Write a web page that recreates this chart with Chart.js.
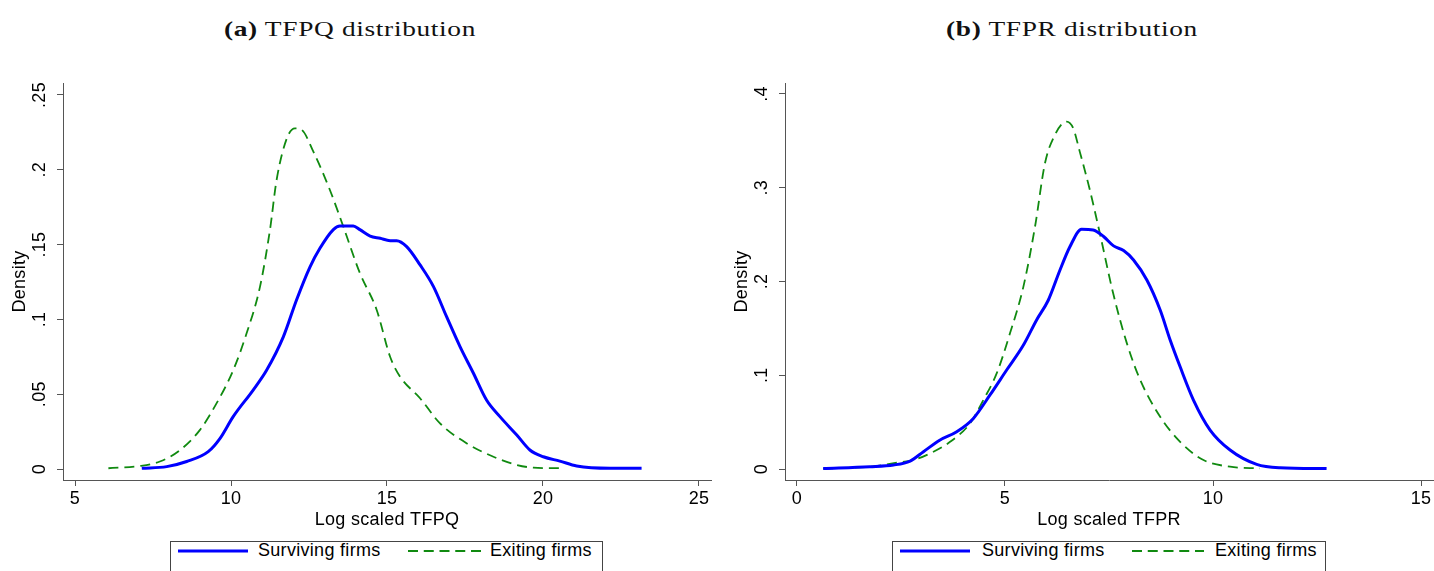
<!DOCTYPE html>
<html>
<head>
<meta charset="utf-8">
<script src="https://cdn.jsdelivr.net/npm/chart.js@4.4.1/dist/chart.umd.min.js"></script>
<style>
  html, body { margin: 0; padding: 0; background: #fff; overflow: hidden; }
  body { width: 1434px; height: 571px; position: relative; font-family: "Liberation Sans", Arial, sans-serif; }
  canvas { position: absolute; top: 60px; }
  #chartA { left: 0; }
  #chartB { left: 722px; }
  .title { position: absolute; top: 18px; font-family: "Liberation Serif", "Times New Roman", serif;
           font-size: 21px; line-height: 22px; white-space: nowrap; color: #111; letter-spacing: 0.5px;
           transform-origin: center; }
  .legend { position: absolute; top: 541px; height: 40px; border: 1px solid #444; box-sizing: border-box; }
  .lg-text { position: absolute; top: 541px; font-size: 18px; line-height: 18px; letter-spacing: 0.3px; color: #000; white-space: nowrap; }
  .lg-line { position: absolute; top: 548px; }
</style>
</head>
<body>
<div class="title" id="titleA" data-center="350"><b>(a)</b> TFPQ distribution</div>
<div class="title" id="titleB" data-center="1072"><b>(b)</b> TFPR distribution</div>
<canvas id="chartA" width="720" height="480"></canvas>
<canvas id="chartB" width="720" height="480"></canvas>
<script>
// ---- data ----
const seriesNames = ["Surviving firms", "Exiting firms"];

// (a) TFPQ
const tfpqSurvX = [7.14, 7.94, 8.58, 9.27, 9.65, 10.07, 10.71, 11.14, 11.68, 12.1, 12.53, 12.85, 13.28, 13.49, 13.92, 14.13, 14.46, 14.78, 15.1, 15.31, 15.63, 16.06, 16.49, 16.91, 17.34, 17.77, 18.19, 18.62, 19.16, 19.58, 20.01, 20.54, 21.08, 22.15, 23.16];
const tfpqSurvY = [0.0005, 0.0016, 0.005, 0.0116, 0.0205, 0.035, 0.0528, 0.066, 0.0885, 0.113, 0.135, 0.1475, 0.160, 0.1624, 0.1624, 0.160, 0.1557, 0.1542, 0.1526, 0.1526, 0.1486, 0.1364, 0.1219, 0.1018, 0.0818, 0.064, 0.0461, 0.035, 0.0227, 0.0127, 0.0082, 0.0053, 0.002, 0.0005, 0.0005];
const tfpqExitX = [6.07, 7.08, 7.72, 8.37, 9.0, 9.54, 10.07, 10.5, 10.93, 11.25, 11.46, 11.79, 12.05, 12.27, 12.64, 13.17, 13.6, 14.13, 14.67, 15.1, 15.42, 16.06, 16.7, 17.55, 18.41, 19.16, 19.69, 20.65];
const tfpqExitY = [0.0005, 0.002, 0.005, 0.0127, 0.026, 0.044, 0.066, 0.0907, 0.1219, 0.160, 0.193, 0.221, 0.2277, 0.2266, 0.2121, 0.1865, 0.162, 0.131, 0.1063, 0.075, 0.0617, 0.0473, 0.0305, 0.0172, 0.0082, 0.0027, 0.0009, 0.0005];

// (b) TFPR
const tfprSurvX = [0.63, 1.75, 2.32, 2.72, 3.04, 3.44, 3.84, 4.24, 4.64, 5.04, 5.44, 5.76, 6.04, 6.32, 6.56, 6.84, 7.12, 7.37, 7.61, 7.85, 8.09, 8.41, 8.73, 8.97, 9.21, 9.53, 9.93, 10.41, 11.05, 11.61, 12.73];
const tfprSurvY = [0.0005, 0.0025, 0.0043, 0.0085, 0.0185, 0.031, 0.0398, 0.054, 0.079, 0.1056, 0.132, 0.159, 0.180, 0.212, 0.237, 0.2557, 0.255, 0.248, 0.238, 0.233, 0.223, 0.2016, 0.1696, 0.1376, 0.109, 0.0736, 0.0416, 0.0203, 0.005, 0.0014, 0.0005];
const tfprExitX = [0.63, 1.75, 2.4, 2.8, 3.2, 3.68, 4.16, 4.48, 4.8, 5.12, 5.44, 5.72, 5.96, 6.16, 6.48, 6.64, 6.8, 7.04, 7.28, 7.6, 7.93, 8.25, 8.73, 9.21, 9.77, 10.41, 11.13];
const tfprExitY = [0.0005, 0.0025, 0.0067, 0.0096, 0.0167, 0.029, 0.0487, 0.0736, 0.102, 0.1447, 0.194, 0.258, 0.326, 0.3527, 0.3705, 0.3634, 0.338, 0.2976, 0.2514, 0.1874, 0.134, 0.095, 0.0558, 0.029, 0.0096, 0.0025, 0.0007];

// tick labels
const xTicksA = [5, 10, 15, 20, 25];
const yTicksA = [0, 0.05, 0.1, 0.15, 0.2, 0.25];
const xTicksB = [0, 5, 10, 15];
const yTicksB = [0, 0.1, 0.2, 0.3, 0.4];

const BLUE = "#0000ff";
const GREEN = "#108a10";
const AXIS = "#555";
const FONT = '"Liberation Sans", Arial, sans-serif';

Chart.defaults.font.family = FONT;
Chart.defaults.font.size = 18;
Chart.defaults.color = "#000";

const pairs = (xs, ys) => xs.map((x, i) => ({ x, y: ys[i] }));

// Stata style: "0", ".05", ".1" ...
function fmt(v) {
  if (v === 0) return "0";
  return String(+v.toFixed(2)).replace(/^0\./, ".");
}

// y tick labels are turned 90 degrees, drawn at the scale's own tick pixels
const rotatedYLabels = {
  id: "rotatedYLabels",
  beforeDraw(chart) {
    chart.ctx.letterSpacing = "0.3px";
  },
  afterDraw(chart) {
    const s = chart.scales.y;
    const ctx = chart.ctx;
    ctx.save();
    ctx.font = "18px " + FONT;
    ctx.fillStyle = "#000";
    ctx.textAlign = "center";
    ctx.textBaseline = "middle";
    ctx.letterSpacing = "0.3px";
    s.ticks.forEach(t => {
      const y = s.getPixelForValue(t.value);
      ctx.save();
      ctx.translate(40.5, y);
      ctx.rotate(-Math.PI / 2);
      ctx.fillText(fmt(t.value), 0, 0);
      ctx.restore();
    });
    ctx.restore();
  }
};

function drawPanel(id, p) {
  return new Chart(document.getElementById(id), {
    type: "scatter",
    data: {
      datasets: [
        {
          label: seriesNames[0],
          data: p.surv,
          showLine: true,
          borderColor: BLUE,
          backgroundColor: BLUE,
          borderWidth: 3,
          pointRadius: 0,
          cubicInterpolationMode: "monotone"
        },
        {
          label: seriesNames[1],
          data: p.exit,
          showLine: true,
          borderColor: GREEN,
          backgroundColor: GREEN,
          borderWidth: 1.8,
          borderDash: [10, 6],
          pointRadius: 0,
          cubicInterpolationMode: "monotone"
        }
      ]
    },
    options: {
      responsive: false,
      animation: false,
      devicePixelRatio: 1,
      layout: { padding: { top: 23, right: 9, left: 0, bottom: 0 } },
      plugins: { legend: { display: false }, title: { display: false }, tooltip: { enabled: false } },
      scales: {
        x: {
          type: "linear",
          bounds: "data",
          min: p.xMin,
          max: p.xMax,
          afterBuildTicks: s => { s.ticks = p.xTicks.map(v => ({ value: v })); },
          afterFit: s => { s.height = 60; },
          ticks: { padding: 2, maxRotation: 0, autoSkip: false, callback: v => fmt(v) },
          grid: { drawOnChartArea: false, drawTicks: true, tickLength: 6, color: AXIS, lineWidth: 1 },
          border: { display: true, color: AXIS, width: 1 },
          title: { display: true, text: p.xTitle, padding: { top: 0, bottom: 9.5 } }
        },
        y: {
          type: "linear",
          bounds: "data",
          min: p.yMin,
          max: p.yMax,
          afterBuildTicks: s => { s.ticks = p.yTicks.map(v => ({ value: v })); },
          afterFit: s => { s.width = 63; },
          ticks: { display: false },
          grid: { drawOnChartArea: false, drawTicks: true, tickLength: 6, color: AXIS, lineWidth: 1 },
          border: { display: true, color: AXIS, width: 1 },
          title: { display: true, text: "Density", padding: { top: 9, bottom: 0 } }
        }
      }
    },
    plugins: [rotatedYLabels]
  });
}

drawPanel("chartA", {
  surv: pairs(tfpqSurvX, tfpqSurvY),
  exit: pairs(tfpqExitX, tfpqExitY),
  xMin: 4.615, xMax: 25.385, xTicks: xTicksA,
  yMin: -0.00735, yMax: 0.258, yTicks: yTicksA,
  xTitle: "Log scaled TFPQ"
});

drawPanel("chartB", {
  surv: pairs(tfprSurvX, tfprSurvY),
  exit: pairs(tfprExitX, tfprExitY),
  xMin: -0.288, xMax: 15.288, xTicks: xTicksB,
  yMin: -0.0117, yMax: 0.4117, yTicks: yTicksB,
  xTitle: "Log scaled TFPR"
});

// panel titles: centre and widen to the reference's extent
document.querySelectorAll(".title").forEach(el => {
  const c = +el.dataset.center;
  const w = el.getBoundingClientRect().width;
  const k = 252 / w;
  el.style.left = c + "px";
  el.style.transform = "translateX(-50%) scaleX(" + k.toFixed(3) + ")";
});

// boxed legends under each panel
function legend(boxLeft, boxWidth, pos) {
  const box = document.createElement("div");
  box.className = "legend";
  box.style.left = boxLeft + "px";
  box.style.width = boxWidth + "px";
  document.body.appendChild(box);
  const styles = [
    { color: BLUE, width: 3, dash: "" },
    { color: GREEN, width: 1.8, dash: "10 5.75" }
  ];
  seriesNames.forEach((name, i) => {
    const st = styles[i];
    const len = pos[i].lineLen;
    const svg = document.createElementNS("http://www.w3.org/2000/svg", "svg");
    svg.setAttribute("class", "lg-line");
    svg.setAttribute("width", len);
    svg.setAttribute("height", 6);
    svg.style.left = pos[i].line + "px";
    svg.innerHTML = '<line x1="0" y1="3" x2="' + len + '" y2="3" stroke="' + st.color +
      '" stroke-width="' + st.width + '"' + (st.dash ? ' stroke-dasharray="' + st.dash + '"' : "") + "/>";
    document.body.appendChild(svg);
    const t = document.createElement("span");
    t.className = "lg-text";
    t.style.left = pos[i].text + "px";
    t.textContent = name;
    document.body.appendChild(t);
  });
}

legend(170, 433, [{ line: 178, lineLen: 70, text: 258 }, { line: 408, lineLen: 73, text: 490 }]);
legend(892, 434, [{ line: 900, lineLen: 70, text: 982 }, { line: 1132, lineLen: 72, text: 1215 }]);
</script>
</body>
</html>
